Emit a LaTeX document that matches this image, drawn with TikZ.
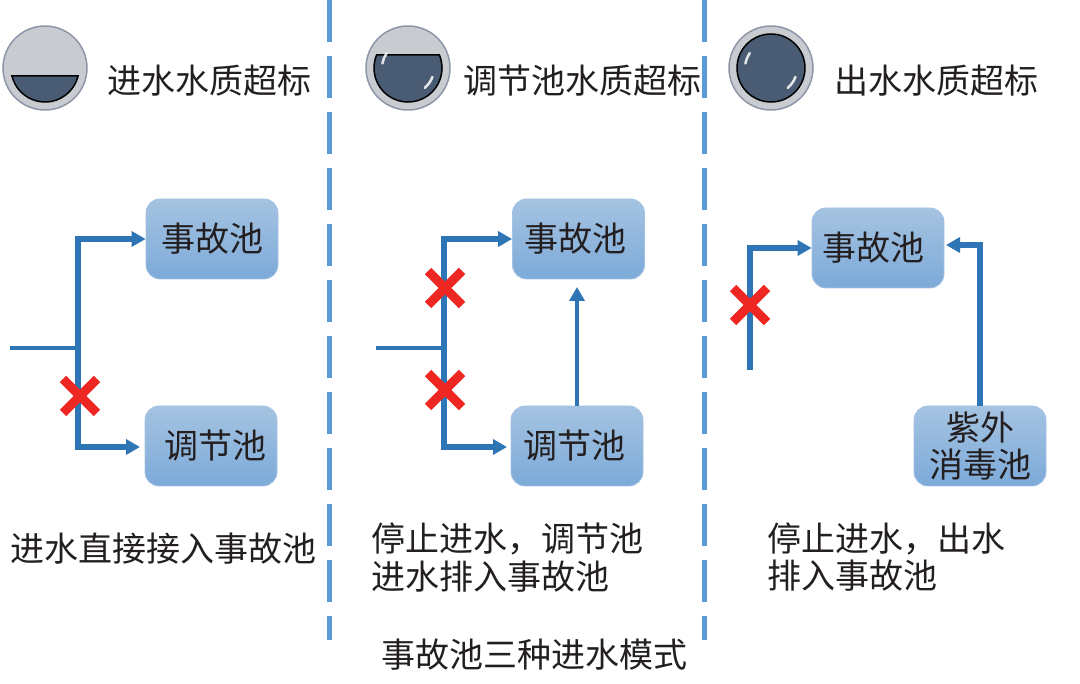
\documentclass[tikz,border=0pt]{standalone}
\usepackage{fontspec}
\setmainfont{Noto Sans CJK SC}
\usetikzlibrary{arrows.meta,shapes.misc}
\definecolor{pipeblue}{HTML}{2E75B6}
\definecolor{dashblue}{HTML}{5B9BD5}
\definecolor{boxtop}{HTML}{A5C3E1}
\definecolor{boxbottom}{HTML}{7DAAD9}
\definecolor{tankgrey}{HTML}{C8CBD0}
\definecolor{tankrim}{HTML}{8E96A8}
\definecolor{waterblue}{HTML}{4A5C74}
\definecolor{crossred}{HTML}{EE2722}
\definecolor{inkblack}{HTML}{231F20}
\tikzset{
  poolbox/.style={rounded corners=14pt,top color=boxtop,bottom color=boxbottom,draw=boxbottom!70!white,line width=0.8pt,minimum width=132pt,minimum height=80pt,inner sep=0pt,align=center},
  note/.style={anchor=west,inner sep=0pt},
  pipe/.style={draw=pipeblue,line width=5.5pt,line join=miter},
  thinpipe/.style={draw=pipeblue,line width=4.5pt},
  crossmark/.style={cross out,draw=crossred,line width=9pt,minimum size=25pt,inner sep=0pt},
  divider/.style={draw=dashblue,line width=5pt,dash pattern=on 42pt off 14pt},
}
\begin{document}
\begin{tikzpicture}[x=1pt,y=-1pt,font=\fontsize{34}{37}\selectfont,text=inkblack,>={Triangle[length=14pt,width=15pt]}]
\useasboundingbox (0,0) rectangle (1080,684);
% dividers
\draw[divider] (329,0)--(329,640);
\draw[divider] (704,0)--(704,640);
% tanks
\foreach \x/\a in {45/13.6, 408/-22.5, 771/-90}{
\draw[fill=tankgrey,draw=tankrim,line width=1.5pt] (\x,68) circle[radius=42];
\draw[draw=black,line width=1.5pt,fill=waterblue] (\x,68) ++(\a:34) arc[start angle=\a,end angle=180-\a,radius=34] -- cycle;
}
\foreach \x in {408,771}{
\draw[white,line width=2.5pt,line cap=round,opacity=0.85] (\x,68) ++(20:26) arc[start angle=20,end angle=50,radius=26];
\draw[white,line width=2.5pt,line cap=round,opacity=0.85] (\x,68) ++(190:26) arc[start angle=190,end angle=215,radius=26];
}
% headings
\node[note] (headA) at (107,81) {进水水质超标};
\node[note] (headB) at (463,81) {调节池水质超标};
\node[note] (headC) at (834,81) {出水水质超标};
% left
\node[poolbox] (sgA) at (212,239) {事故池};
\node[poolbox] (tjA) at (211,446) {\kern8pt调节池};
\path (10,348) coordinate (inA) (78,348) coordinate (jA) (140,447) coordinate (endA);
\draw[thinpipe] (inA)--(jA);
\draw[pipe,->] (jA)|-(sgA.west);
\draw[pipe,->] (jA)|-(endA);
\node[crossmark] (xA) at (80,396) {};
% middle
\node[poolbox] (sgB) at (578.5,239) {事故池\kern6pt};
\node[poolbox] (tjB) at (577,446) {调节池\kern6pt};
\path (376,348) coordinate (inB) (444,348) coordinate (jB) (507,447) coordinate (endB) (577,287) coordinate (upB);
\draw[thinpipe] (inB)--(jB);
\draw[pipe,->] (jB)|-(sgB.west);
\draw[pipe,->] (jB)|-(endB);
\draw[thinpipe,->] (tjB.north-|upB)--(upB);
\node[crossmark] (xB) at (445,288) {};
\node[crossmark] (xC) at (445,390) {};
% right
\node[poolbox] (sgC) at (878,248) {事故池\kern10pt};
\node[poolbox] (zwC) at (980,446) {紫外\\消毒池};
\path (750,370) coordinate (inC) (980,245) coordinate (upC) (946,245) coordinate (endC);
\draw[pipe,->] (inC)|-(sgC.west);
\draw[pipe,->] (zwC.north-|upC)--(upC)--(endC);
\node[crossmark] (xD) at (750,305) {};
% captions
\node[note] (capA) at (10,549) {进水直接接入事故池};
\node[note] (capB) at (371,539) {停止进水，调节池};
\node[note] (capC) at (371,577) {进水排入事故池};
\node[note] (capD) at (767,539) {停止进水，出水};
\node[note] (capE) at (767,576) {排入事故池};
\node[note] (title) at (381,655) {事故池三种进水模式};
\end{tikzpicture}
\end{document}
